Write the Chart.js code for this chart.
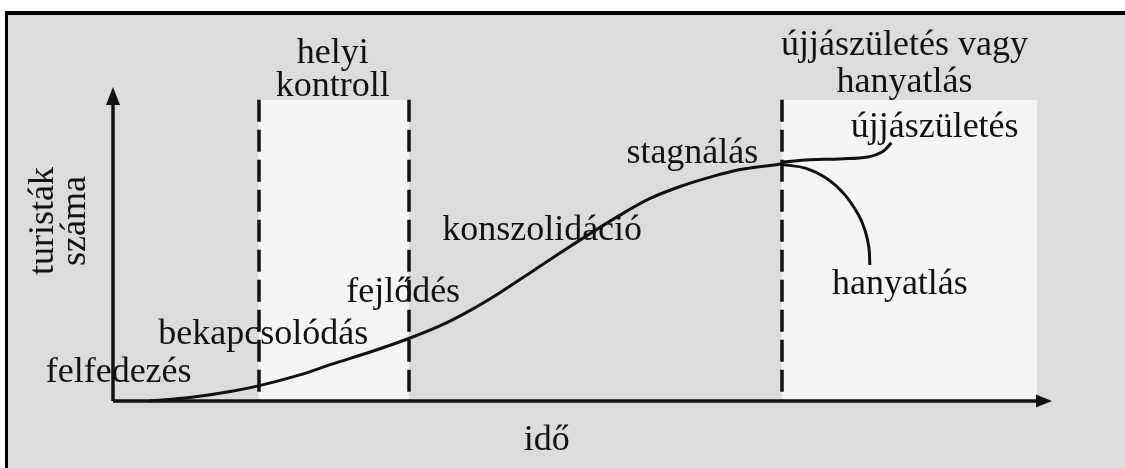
<!DOCTYPE html>
<html lang="hu">
<head>
<meta charset="utf-8">
<title>Turisztikai desztináció életciklusa</title>
<script src="https://cdn.jsdelivr.net/npm/chart.js@4.4.1/dist/chart.umd.min.js"></script>
<style>
    html, body { margin: 0; padding: 0; background: #fff; }
    #wrap { position: relative; width: 1125px; height: 468px; overflow: hidden; }
    #frame {
        position: absolute; left: 5px; top: 11px; width: 1125px; height: 470px;
        border-top: 4px solid #000; border-left: 3px solid #000;
        background: #dcdcdc;
    }
    #chart { position: absolute; left: 0; top: 0; }
</style>
</head>
<body>
<div id="wrap">
    <div id="frame"></div>
    <canvas id="chart" width="1125" height="468"></canvas>
</div>
<script>
// main life cycle curve (idő, turisták száma)
const mainTime = [3.9, 8.2, 12.5, 15.6, 19.9, 23.4, 27.4, 31.5, 34.8, 38.0, 41.2, 44.4, 47.6, 50.8, 54.0, 57.2, 60.4, 63.6, 66.8, 71.2];
const mainTourists = [0, 1.1, 3.0, 4.9, 8.3, 11.8, 15.6, 19.9, 23.9, 28.8, 34.5, 40.8, 47.1, 53.3, 59.2, 64.5, 68.3, 71.3, 73.7, 75.5];

// újjászületés branch
const rebirthTime = [71.2, 74.2, 77.4, 80.4, 81.9, 82.9];
const rebirthTourists = [76.1, 76.8, 77.1, 77.7, 79.3, 82.2];

// hanyatlás branch
const declineTime = [71.3, 73.8, 76.0, 77.9, 79.4, 80.1, 80.5, 80.6];
const declineTourists = [75.3, 74.1, 70.9, 65.8, 59.2, 54.2, 48.9, 43.3];

// dashed phase boundaries and the two highlighted periods
const phaseBounds = [15.5, 31.5, 71.2];
const highlightFrom = [15.5, 71.2];
const highlightTo = [31.5, 98.4];
const highlightTop = 95.9;

const xTitle = 'idő';
const yTitle = ['turisták', 'száma'];

function toPoints(xs, ys) {
    return xs.map((x, i) => ({ x: x, y: ys[i] }));
}

const FONT = '36px "Liberation Serif", "Times New Roman", serif';

// text labels, anchored in data units (centre x, baseline y)
const annotations = [
    { text: 'helyi', x: 23.4, y: 107.6 },
    { text: 'kontroll', x: 23.4, y: 97.1 },
    { text: 'újjászületés vagy', x: 84.3, y: 110.2 },
    { text: 'hanyatlás', x: 84.3, y: 98.4 },
    { text: 'újjászületés', x: 87.5, y: 84.1 },
    { text: 'stagnálás', x: 61.7, y: 75.8 },
    { text: 'konszolidáció', x: 45.7, y: 51.3 },
    { text: 'fejlődés', x: 30.9, y: 31.5 },
    { text: 'bekapcsolódás', x: 16.0, y: 18.2 },
    { text: 'felfedezés', x: 0.6, y: 6.1 },
    { text: 'hanyatlás', x: 83.8, y: 34.1 },
    { text: xTitle, x: 46.2, y: -15.6 }
];

const diagramPlugin = {
    id: 'diagram',
    beforeDatasetsDraw(chart) {
        const ctx = chart.ctx;
        const xs = chart.scales.x;
        const ys = chart.scales.y;
        const y0 = ys.getPixelForValue(0);

        ctx.save();
        // light background periods
        ctx.fillStyle = '#f4f4f4';
        highlightFrom.forEach((from, i) => {
            const l = xs.getPixelForValue(from);
            const r = xs.getPixelForValue(highlightTo[i]);
            const t = ys.getPixelForValue(highlightTop);
            ctx.fillRect(l, t, r - l, y0 - t);
        });

        // texts
        ctx.fillStyle = '#111';
        ctx.font = FONT;
        ctx.textAlign = 'center';
        ctx.textBaseline = 'alphabetic';
        annotations.forEach(a => {
            ctx.fillText(a.text, xs.getPixelForValue(a.x), ys.getPixelForValue(a.y));
        });

        // rotated y title
        const yMid = ys.getPixelForValue(57.3);
        [[-6.4, yTitle[0]], [-3.0, yTitle[1]]].forEach(([xv, t]) => {
            ctx.save();
            ctx.translate(xs.getPixelForValue(xv), yMid);
            ctx.rotate(-Math.PI / 2);
            ctx.fillText(t, 0, 0);
            ctx.restore();
        });

        // dashed phase lines
        ctx.strokeStyle = '#111';
        ctx.lineWidth = 3.5;
        ctx.setLineDash([22, 8]);
        phaseBounds.forEach(b => {
            const px = Math.round(xs.getPixelForValue(b));
            ctx.beginPath();
            ctx.moveTo(px, ys.getPixelForValue(highlightTop));
            ctx.lineTo(px, y0);
            ctx.stroke();
        });
        ctx.setLineDash([]);

        // axes with arrows
        const x0 = xs.getPixelForValue(0);
        const xEnd = xs.getPixelForValue(100);
        const yEnd = ys.getPixelForValue(100);
        ctx.lineWidth = 3.5;
        ctx.beginPath();
        ctx.moveTo(x0, y0);
        ctx.lineTo(xEnd - 12, y0);
        ctx.moveTo(x0, y0);
        ctx.lineTo(x0, yEnd + 14);
        ctx.stroke();
        ctx.fillStyle = '#111';
        ctx.beginPath();
        ctx.moveTo(xEnd, y0);
        ctx.lineTo(xEnd - 16, y0 - 6.5);
        ctx.lineTo(xEnd - 16, y0 + 6.5);
        ctx.closePath();
        ctx.fill();
        ctx.beginPath();
        ctx.moveTo(x0, yEnd);
        ctx.lineTo(x0 - 7, yEnd + 18);
        ctx.lineTo(x0 + 7, yEnd + 18);
        ctx.closePath();
        ctx.fill();
        ctx.restore();
    }
};

const lineStyle = {
    borderColor: '#111',
    borderWidth: 3,
    pointRadius: 0,
    fill: false,
    clip: false
};

const config = {
    type: 'line',
    data: {
        datasets: [
            Object.assign({ label: 'életciklus', data: toPoints(mainTime, mainTourists), cubicInterpolationMode: 'monotone' }, lineStyle),
            Object.assign({ label: 'újjászületés', data: toPoints(rebirthTime, rebirthTourists), tension: 0.4 }, lineStyle),
            Object.assign({ label: 'hanyatlás', data: toPoints(declineTime, declineTourists), tension: 0.4 }, lineStyle)
        ]
    },
    options: {
        responsive: false,
        animation: false,
        layout: { padding: { left: 113, right: 73, top: 87, bottom: 67 } },
        plugins: { legend: { display: false }, tooltip: { enabled: false } },
        scales: {
            x: { type: 'linear', min: 0, max: 100, display: false },
            y: { type: 'linear', min: 0, max: 100, display: false }
        }
    },
    plugins: [diagramPlugin]
};

new Chart(document.getElementById('chart'), config);
</script>
</body>
</html>
